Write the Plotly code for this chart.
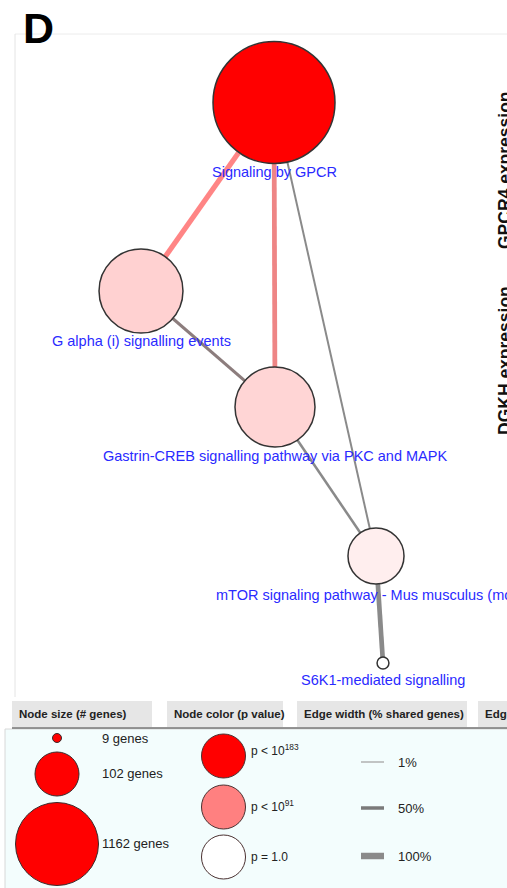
import numpy as np
import plotly.graph_objects as go

# ---- data -------------------------------------------------------------
# Gene-set nodes of the enrichment network
node_names = [
    "Signaling by GPCR",
    "G alpha (i) signalling events",
    "Gastrin-CREB signalling pathway via PKC and MAPK",
    "mTOR signaling pathway - Mus musculus (mouse)",
    "S6K1-mediated signalling",
]
node_genes = [1162, 550, 500, 245, 11]
node_neglog10_p = [183, 33, 30, 12, 0]

# Edges between gene sets and their share of common genes (%)
edge_source = [0, 0, 0, 1, 2, 3]
edge_target = [1, 2, 3, 2, 3, 4]
edge_shared_pct = [78, 71, 13, 38, 26, 70]

# Legend content
legend_size_labels = ["9 genes", "102 genes", "1162 genes"]
legend_color_values = [183, 91, 0]
legend_color_labels = ["p < 10<sup>183</sup>", "p < 10<sup>91</sup>", "p = 1.0"]
legend_edge_pct = [1, 50, 100]
legend_edge_labels = ["1%", "50%", "100%"]
header_labels = ["Node size (# genes)", "Node color (p value)",
                 "Edge width (% shared genes)", "Edge color"]
side_labels = ["GPCR4 expression", "DGKH expression"]

# ---- layout / style ---------------------------------------------------
W, H = 507, 888
FONT = "Liberation Sans, Arial, sans-serif"
LABEL_BLUE = "#2a2aff"
node_x = [274, 141, 275, 376, 383]
node_y = [102.5, 291, 407, 556, 663]
label_x = [274.5, 141, 275, 214, 383]
label_y = [172, 341, 456, 595, 680]
label_anchor = ["center", "center", "center", "left", "center"]
edge_colors = ["#ff8585", "#ee8585", "#8a8a8a", "#8c7d7d", "#8a8a8a", "#8a8a8a"]
node_colorscale = [[0, "#ffffff"], [1, "#ff0000"]]
# area sizing: the largest gene set gets a 122 px wide disc
size_ref = 2 * 1162 / 122 ** 2


def edge_width(pct):
    return float(np.interp(pct, [1, 50, 100], [1.5, 3.5, 6.5]))


fig = go.Figure()

# network edges
for s, t, pct, col in zip(edge_source, edge_target, edge_shared_pct, edge_colors):
    fig.add_trace(go.Scatter(
        x=[node_x[s], node_x[t]], y=[node_y[s], node_y[t]], mode="lines",
        line=dict(color=col, width=edge_width(pct)), hoverinfo="skip"))

# network nodes
fig.add_trace(go.Scatter(
    x=node_x, y=node_y, mode="markers", text=node_names, hoverinfo="text",
    marker=dict(size=node_genes, sizemode="area", sizeref=size_ref, opacity=1,
                color=node_neglog10_p, colorscale=node_colorscale,
                cmin=0, cmax=183, line=dict(color="#333333", width=1.5))))

for name, x, y, anc in zip(node_names, label_x, label_y, label_anchor):
    fig.add_annotation(x=x, y=y, text=name, showarrow=False, xanchor=anc,
                       yanchor="middle",
                       font=dict(family=FONT, size=14.5, color=LABEL_BLUE))

# side labels
for txt, y in zip(side_labels, [170, 361]):
    fig.add_annotation(x=505, y=y, text="<b>%s</b>" % txt, showarrow=False,
                       textangle=-90, xanchor="center", yanchor="middle",
                       font=dict(family=FONT, size=17.5, color="#111111"))

# panel "D"
fig.add_annotation(x=21, y=28, text="<b>D</b>", showarrow=False, xanchor="left",
                   yanchor="middle", font=dict(family=FONT, size=43, color="#000"))

shapes = [
    # network frame
    dict(type="line", x0=15, x1=W, y0=34, y1=34, line=dict(color="#ececec", width=1)),
    dict(type="line", x0=15, x1=15, y0=34, y1=697, line=dict(color="#e4e4e4", width=1)),
    # legend body
    dict(type="rect", x0=5, x1=W + 5, y0=729, y1=H + 5, fillcolor="#f3fdfd",
         line=dict(color="#d8d8d8", width=1), layer="below"),
    dict(type="line", x0=12, x1=W, y0=728, y1=728, line=dict(color="#707070", width=1.5)),
]
header_x = [(12, 152), (167, 283), (297, 467), (478, 530)]
for (x0, x1) in header_x:
    shapes.append(dict(type="rect", x0=x0, x1=x1, y0=701, y1=727,
                       fillcolor="#e6e6e6", line=dict(width=0), layer="below"))
fig.update_layout(shapes=shapes)

for (x0, _), txt in zip(header_x, header_labels):
    fig.add_annotation(x=x0 + 5, y=714, text="<b>%s</b>" % txt, showarrow=False,
                       xanchor="left", yanchor="middle",
                       font=dict(family=FONT, size=11.5, color="#222222"))

# legend: node size
size_diam = [9, 44, 83]
size_y = [738, 774, 844]
fig.add_trace(go.Scatter(
    x=[57] * 3, y=size_y, mode="markers", hoverinfo="skip",
    marker=dict(size=size_diam, color="#ff0000", opacity=1,
                line=dict(color="#3a2a2a", width=1))))
for txt, y in zip(legend_size_labels, [738, 773, 843]):
    fig.add_annotation(x=100, y=y, text=txt, showarrow=False, xanchor="left",
                       yanchor="middle", font=dict(family=FONT, size=13, color="#222"))

# legend: node colour
color_y = [756, 807, 857]
fig.add_trace(go.Scatter(
    x=[223.5] * 3, y=color_y, mode="markers", hoverinfo="skip",
    marker=dict(size=44, color=legend_color_values, colorscale=node_colorscale,
                cmin=0, cmax=183, opacity=1, line=dict(color="#4a3030", width=1))))
for txt, y in zip(legend_color_labels, [750, 806, 857]):
    fig.add_annotation(x=249, y=y, text=txt, showarrow=False, xanchor="left",
                       yanchor="middle", font=dict(family=FONT, size=12, color="#222"))

# legend: edge width
edge_leg_y = [762, 808, 856]
edge_leg_col = ["#b0b0b0", "#7a7a7a", "#8a8a8a"]
for pct, y, col in zip(legend_edge_pct, edge_leg_y, edge_leg_col):
    fig.add_trace(go.Scatter(x=[361, 384], y=[y, y], mode="lines", hoverinfo="skip",
                             line=dict(color=col, width=edge_width(pct))))
for txt, y in zip(legend_edge_labels, edge_leg_y):
    fig.add_annotation(x=396, y=y, text=txt, showarrow=False, xanchor="left",
                       yanchor="middle", font=dict(family=FONT, size=13, color="#222"))

fig.update_layout(
    width=W, height=H, margin=dict(l=0, r=0, t=0, b=0),
    paper_bgcolor="white", plot_bgcolor="white", showlegend=False,
    xaxis=dict(range=[0, W], visible=False, fixedrange=True),
    yaxis=dict(range=[H, 0], visible=False, fixedrange=True),
)
fig.write_html("out.html")
